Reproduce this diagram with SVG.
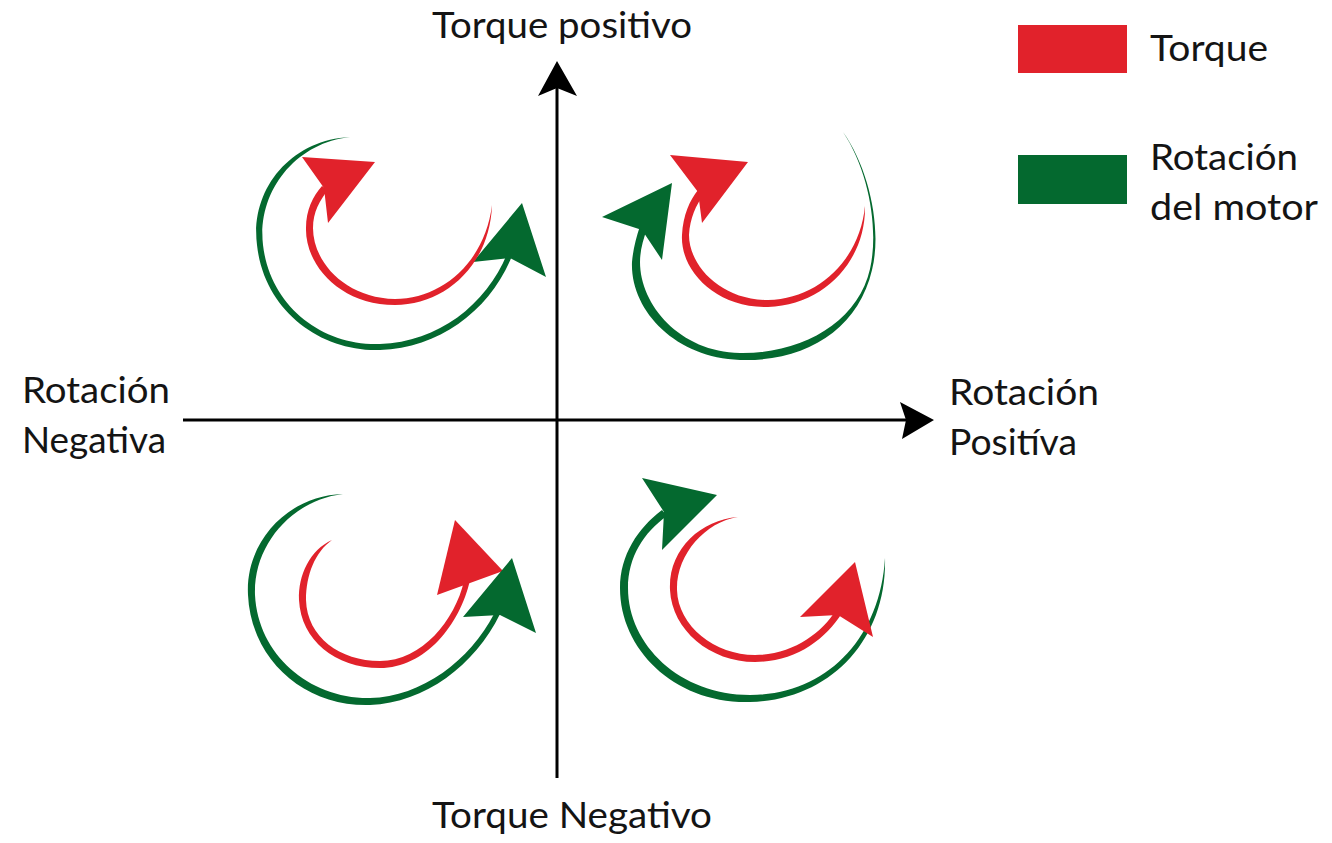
<svg xmlns="http://www.w3.org/2000/svg" width="1332" height="843" viewBox="0 0 1332 843">
<style>
.t{font-family:Lato,"Open Sans","Liberation Sans",sans-serif;font-size:37px;fill:#141414}
.r{fill:#E1222B}
.g{fill:#04692F}
.ax{stroke:#000;stroke-width:3;fill:none}
</style>
<rect width="1332" height="843" fill="#fff"/>
<g id="axes">
<line class="ax" x1="183" y1="420" x2="906" y2="420"/>
<path d="M934,420 L900,402 L906,420 L902,439 Z" fill="#000"/>
<line class="ax" x1="557" y1="778" x2="557" y2="86"/>
<path d="M557,61 L538,96 L557,88 L577,96 Z" fill="#000"/>
</g>
<g id="q1">
<path class="g" d="M350,137 C290,140 250,190 257,245 C264,310 320,352 380,350 C440,348 490,310 512,256 L507,254 C486,305 438,342 380,344 C322,346 270,306 263,245 C257,192 295,143 350,137 Z"/>
<path class="g" d="M473,262 L522,203 L546,277 L510,258 Z"/>
<path class="r" d="M492,205 C490,265 445,305 395,305 C340,305 305,265 306,228 C306,210 313,196 322,186 L328,190 C320,200 313,212 313,228 C313,262 345,298 395,299 C442,299 485,262 492,205 Z"/>
<path class="r" d="M302,157 L375,162 L328,223 L324,188 Z"/>
</g>
<g id="q2">
<path class="g" d="M843,132 C870,170 882,230 872,270 C858,330 805,362 740,360 C675,358 630,310 632,262 C633,250 636,238 640,226 L647,229 C643,240 640,251 640,262 C640,305 680,352 740,353 C802,354 858,322 870,269 C879,229 869,171 843,132 Z"/>
<path class="g" d="M602,217 L672,183 L662,260 L642,230 Z"/>
<path class="r" d="M865,206 C866,260 825,305 768,307 C715,308 680,270 682,235 C683,215 690,200 698,190 L704,194 C696,205 690,218 689,235 C689,265 720,300 768,300 C820,299 860,258 865,206 Z"/>
<path class="r" d="M670,155 L748,162 L702,223 L698,192 Z"/>
</g>
<g id="q3">
<path class="g" d="M343,494 C290,495 245,540 248,595 C251,660 305,707 370,705 C425,703 475,665 500,614 L494,614 C470,660 422,697 370,698 C310,699 258,655 255,595 C253,545 292,500 343,494 Z"/>
<path class="r" d="M332,540 C310,550 298,575 299,600 C301,640 335,668 380,668 C425,668 460,625 470,580 L464,581 C455,620 422,661 380,661 C340,661 307,637 306,600 C306,575 315,552 332,540 Z"/>
<path class="r" d="M455,520 L503,571 L437,595 Z"/>
<path class="g" d="M463,617 L512,558 L536,633 L500,615 Z"/>
</g>
<g id="q4">
<path class="g" d="M885,558 C887,640 830,700 750,702 C675,704 620,650 620,588 C620,555 638,528 662,510 L667,516 C644,532 628,557 628,588 C628,645 680,695 750,695 C825,695 880,640 885,558 Z"/>
<path class="g" d="M642,478 L717,495 L662,550 L664,512 Z"/>
<path class="r" d="M738,517 C700,520 668,550 670,590 C672,630 710,662 755,662 C795,662 825,640 842,613 L836,610 C822,633 792,655 755,655 C715,655 678,626 677,590 C676,555 705,522 738,517 Z"/>
<path class="r" d="M800,617 L855,562 L873,637 L838,615 Z"/>
</g>
<g id="labels">
<text class="t" x="432" y="38" textLength="260" lengthAdjust="spacingAndGlyphs">Torque positivo</text>
<text class="t" x="432" y="828" textLength="280" lengthAdjust="spacingAndGlyphs">Torque Negativo</text>
<text class="t" x="22" y="403" textLength="148" lengthAdjust="spacingAndGlyphs">Rotación</text>
<text class="t" x="22" y="453" textLength="144" lengthAdjust="spacingAndGlyphs">Negativa</text>
<text class="t" x="949" y="405" textLength="150" lengthAdjust="spacingAndGlyphs">Rotación</text>
<text class="t" x="949" y="455" textLength="128" lengthAdjust="spacingAndGlyphs">Positíva</text>
</g>
<g id="legend">
<rect class="r" x="1018" y="25" width="109" height="48"/>
<rect class="g" x="1018" y="155" width="109" height="49"/>
<text class="t" x="1150" y="61" textLength="118" lengthAdjust="spacingAndGlyphs">Torque</text>
<text class="t" x="1150" y="170" textLength="148" lengthAdjust="spacingAndGlyphs">Rotación</text>
<text class="t" x="1150" y="220" textLength="168" lengthAdjust="spacingAndGlyphs">del motor</text>
</g>
</svg>
